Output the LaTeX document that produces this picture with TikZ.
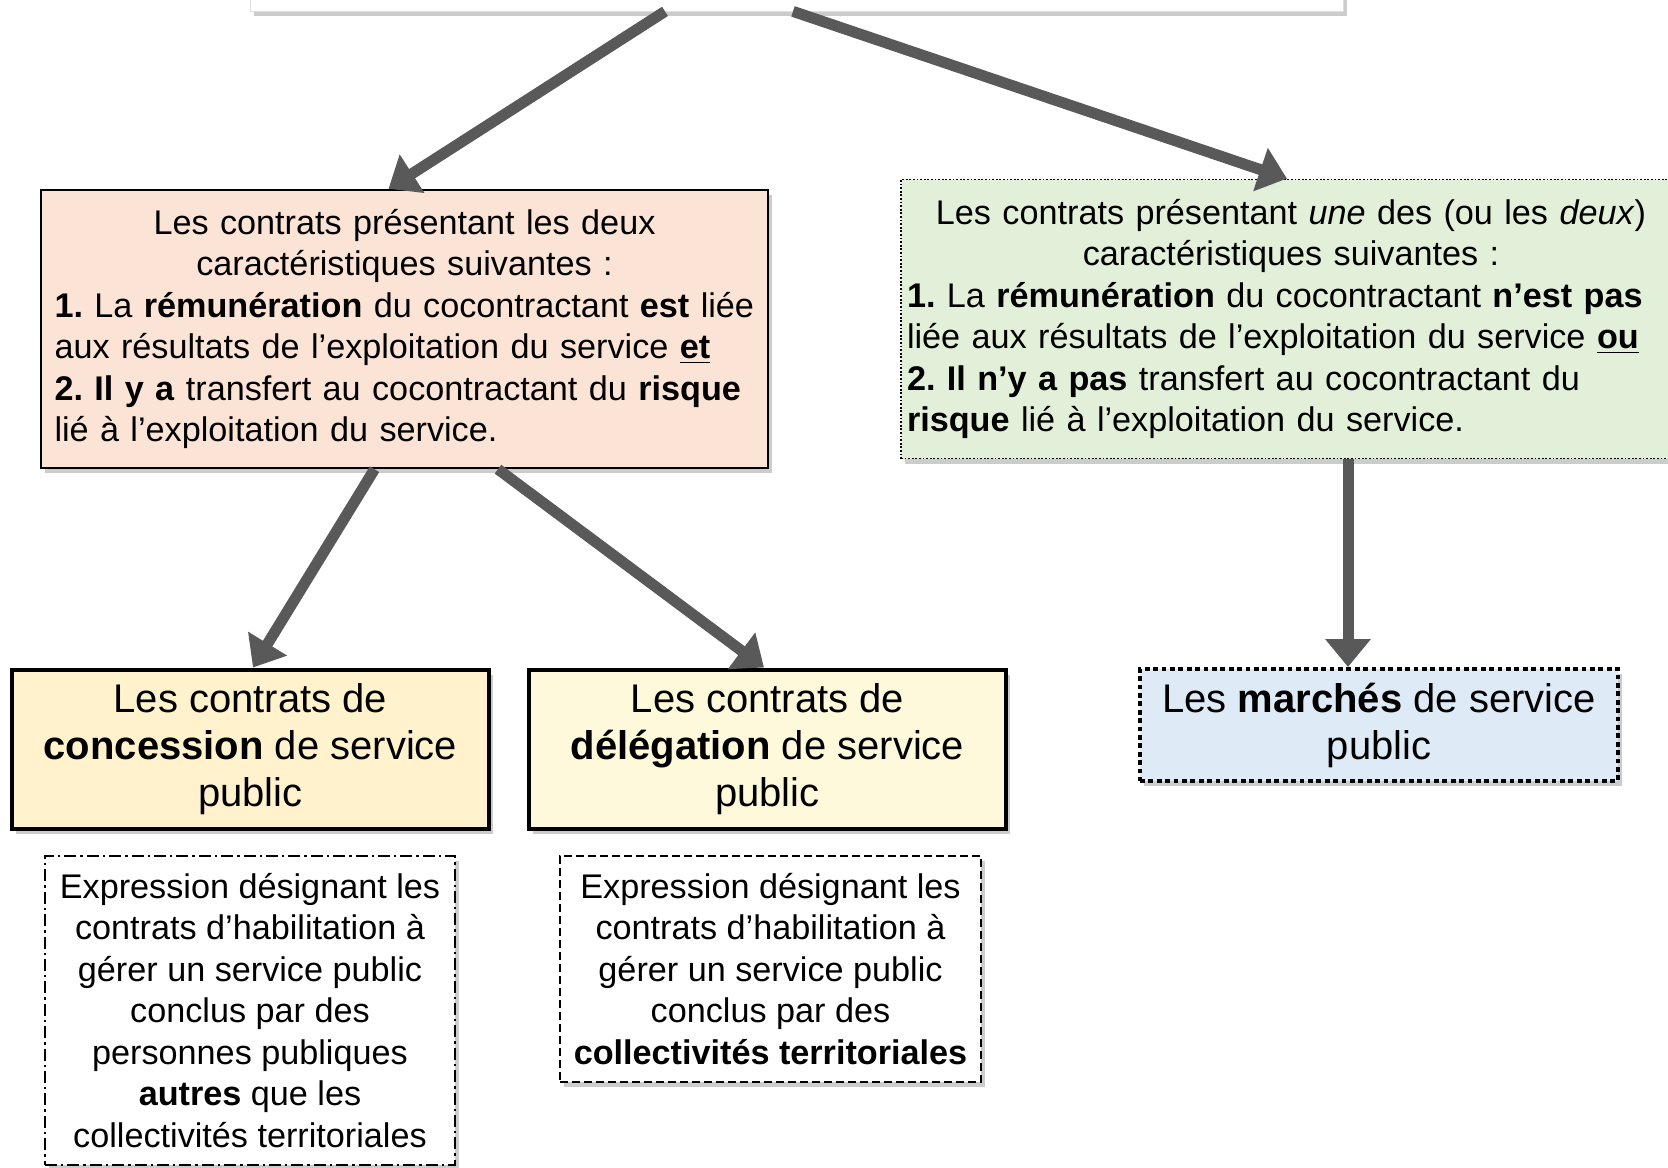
\documentclass[tikz,border=0pt]{standalone}
\usepackage{fontspec}
\setmainfont{Liberation Sans}
\frenchspacing
\usepackage{tikz}
\usetikzlibrary{arrows.meta}
\usetikzlibrary{shadows}
\usetikzlibrary{calc}

\definecolor{saumon}{HTML}{FBE4D5}
\definecolor{vertpale}{HTML}{E2EFD9}
\definecolor{jaunepale}{HTML}{FFF2CC}
\definecolor{jauneclair}{HTML}{FFF9DB}
\definecolor{bleupale}{HTML}{DEEBF7}
\definecolor{grisfleche}{HTML}{595959}

\begin{document}
\begin{tikzpicture}[x=0.5pt,y=-0.5pt,
        boite/.style={rectangle,inner sep=0pt,
            drop shadow={shadow xshift=2pt,shadow yshift=-2.5pt,opacity=0.4}},
        texte/.style={font=\fontsize{17.1}{20.75}\selectfont},
        grand/.style={font=\fontsize{20}{23.5}\selectfont,align=center},
        fleche/.style={-{Triangle[width=22pt,length=14pt]},line width=5.5pt,draw=grisfleche}]
        \useasboundingbox (0,0) rectangle (1668,1167);

        % Top box (cut off)
        \node [boite,draw=gray!25,fill=white,minimum width=546.5pt,minimum height=60pt]
            (haut) at (796.5,-49) {};

        % Characteristics
        \node [boite,draw=black,line width=1.2pt,fill=saumon,texte,
            minimum width=363.5pt,minimum height=139pt,text width=350pt]
            (lies) at (404.5,329) {%
            {\centering Les contrats présentant les deux\\
            caractéristiques suivantes :\par}
            \raggedright
            \textbf{1.} La \textbf{rémunération} du cocontractant \textbf{est} liée\\
            aux résultats de l'exploitation du service \underline{\textbf{et}}\\
            \textbf{2. Il y a} transfert au cocontractant du \textbf{risque}\\
            lié à l'exploitation du service.};
        \node [boite,draw=black,line width=0.9pt,dash pattern=on 0.9pt off 0.9pt,
            fill=vertpale,texte,inner xsep=3pt,
            minimum height=139.5pt,text width=384pt]
            (nonlies) at (1291,319) {%
            {\centering Les contrats présentant \textit{une} des (ou les \textit{deux})\\
            caractéristiques suivantes :\par}
            \raggedright
            \textbf{1.} La \textbf{rémunération} du cocontractant \textbf{n'est pas}\\
            liée aux résultats de l'exploitation du service \underline{\textbf{ou}}\\
            \textbf{2. Il n'y a pas} transfert au cocontractant du\\
            \textbf{risque} lié à l'exploitation du service.};

        % Categories
        \node [boite,draw=black,line width=2pt,fill=jaunepale,grand,
            minimum width=238.5pt,minimum height=79.5pt]
            (concession) at (250.5,749)
            {Les contrats de\\ \textbf{concession} de service\\ public};
        \node [boite,draw=black,line width=2pt,fill=jauneclair,grand,
            minimum width=238.5pt,minimum height=79.5pt]
            (delegation) at (767.5,749)
            {Les contrats de\\ \textbf{délégation} de service\\ public};
        \node [boite,draw=black,line width=2pt,dash pattern=on 2.4pt off 1.8pt,
            fill=bleupale,grand,minimum width=239pt,minimum height=56pt]
            (marches) at (1379,725)
            {Les \textbf{marchés} de service\\ public};

        % Notes
        \node [boite,draw=black,line width=0.8pt,fill=white,texte,align=center,
            dash pattern=on 6pt off 2pt on 1.2pt off 2pt,
            minimum width=205pt,minimum height=154.5pt]
            (noteconcession) at (250,1010.5)
            {Expression désignant les\\ contrats d'habilitation à\\
            gérer un service public\\ conclus par des\\ personnes publiques\\
            \textbf{autres} que les\\ collectivités territoriales};
        \node [boite,draw=black,line width=0.8pt,fill=white,texte,align=center,
            dash pattern=on 4pt off 2pt,
            minimum width=210.5pt,minimum height=113pt]
            (notedelegation) at (770.5,969)
            {Expression désignant les\\ contrats d'habilitation à\\
            gérer un service public\\ conclus par des\\
            \textbf{collectivités territoriales}};

        % Arrows
        \draw [fleche] ($(haut.south)+(-131.5,0)$) -- ($(lies.north)+(-16,0)$);
        \draw [fleche] ($(haut.south)+(-3.5,0)$) -- ($(nonlies.north)+(-4,0)$);
        \draw [fleche] ($(lies.south)+(-30,0)$) -- ($(concession.north)+(2.5,0)$);
        \draw [fleche] ($(lies.south)+(93.5,0)$) -- ($(delegation.north)+(-3.5,0)$);
        \draw [fleche] ($(nonlies.south)+(57,0)$) -- ($(marches.north)+(-31,0)$);

    \end{tikzpicture}
\end{document}
